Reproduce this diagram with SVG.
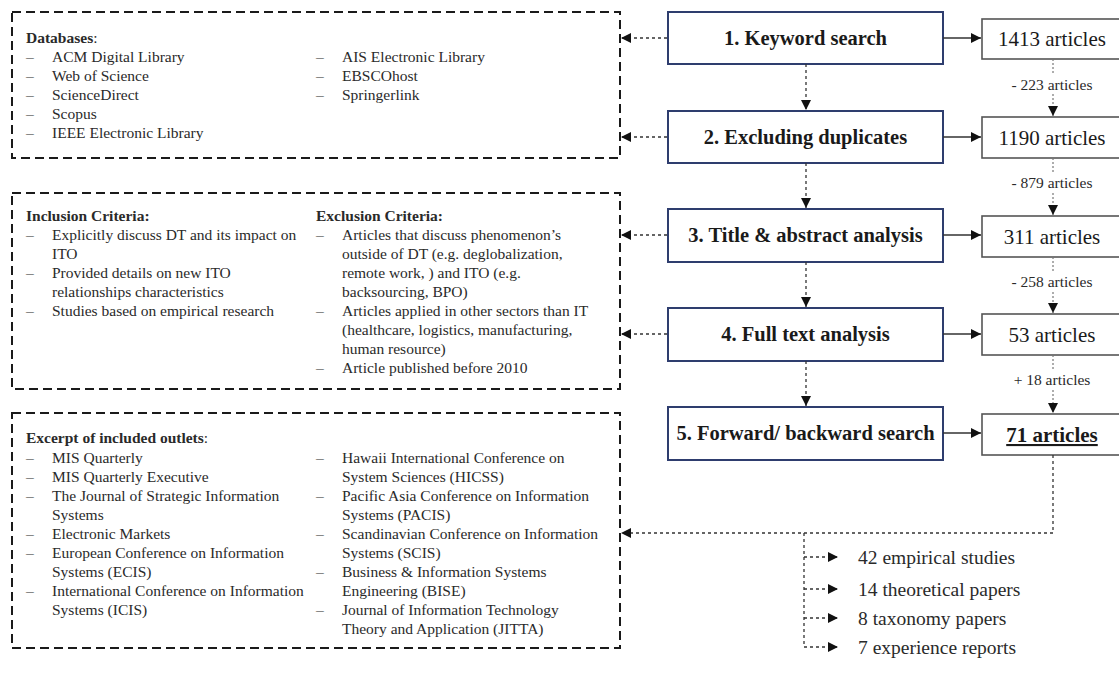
<svg xmlns="http://www.w3.org/2000/svg" width="1119" height="679" viewBox="0 0 1119 679">
<style>
.bg{fill:#fff}
.grp{fill:none;stroke:#1a1a1a;stroke-width:2;stroke-dasharray:9,5}
.proc{fill:#fff;stroke:#2e3d6e;stroke-width:2}
.art{fill:#fff;stroke:#555;stroke-width:1.6}
.t{font-family:"Liberation Serif","Times New Roman",serif;font-size:15.5px;fill:#2a2a2a}
.b{font-weight:bold}
.pt{font-family:"Liberation Serif","Times New Roman",serif;font-size:20.5px;font-weight:bold;fill:#1a1a1a;text-anchor:middle}
.at{font-family:"Liberation Serif","Times New Roman",serif;font-size:21px;fill:#1a1a1a;text-anchor:middle}
.lbl{font-family:"Liberation Serif","Times New Roman",serif;font-size:15.5px;fill:#2a2a2a;text-anchor:middle}
.res{font-family:"Liberation Serif","Times New Roman",serif;font-size:19.5px;fill:#2a2a2a}
.dash{fill:none;stroke:#333;stroke-width:1.3;stroke-dasharray:3,3}
.dot{fill:none;stroke:#777;stroke-width:1.2;stroke-dasharray:2,2}
.solid{fill:none;stroke:#333;stroke-width:1.5}
</style>
<defs>
<marker id="ah" viewBox="0 0 10 10" refX="10" refY="5" markerWidth="10" markerHeight="10" markerUnits="userSpaceOnUse" orient="auto">
<path d="M0,0 L10,5 L0,10 Z" fill="#111"/>
</marker>
</defs>
<rect class="bg" x="0" y="0" width="1119" height="679"/>

<g id="databases">
<rect class="grp" x="12" y="12" width="608" height="146"/>
<text class="t" x="26" y="43"><tspan class="b">Databases</tspan>:</text>
<text class="t" x="26" y="62">–</text><text class="t" x="52" y="62">ACM Digital Library</text>
<text class="t" x="26" y="81">–</text><text class="t" x="52" y="81">Web of Science</text>
<text class="t" x="26" y="100">–</text><text class="t" x="52" y="100">ScienceDirect</text>
<text class="t" x="26" y="119">–</text><text class="t" x="52" y="119">Scopus</text>
<text class="t" x="26" y="138">–</text><text class="t" x="52" y="138">IEEE Electronic Library</text>
<text class="t" x="316" y="62">–</text><text class="t" x="342" y="62">AIS Electronic Library</text>
<text class="t" x="316" y="81">–</text><text class="t" x="342" y="81">EBSCOhost</text>
<text class="t" x="316" y="100">–</text><text class="t" x="342" y="100">Springerlink</text>
</g>

<g id="criteria">
<rect class="grp" x="12" y="193" width="608" height="196"/>
<text class="t b" x="26" y="221">Inclusion Criteria:</text>
<text class="t" x="26" y="240">–</text><text class="t" x="52" y="240">Explicitly discuss DT and its impact on</text>
<text class="t" x="52" y="259">ITO</text>
<text class="t" x="26" y="278">–</text><text class="t" x="52" y="278">Provided details on new ITO</text>
<text class="t" x="52" y="297">relationships characteristics</text>
<text class="t" x="26" y="316">–</text><text class="t" x="52" y="316">Studies based on empirical research</text>
<text class="t b" x="316" y="221">Exclusion Criteria:</text>
<text class="t" x="316" y="240">–</text><text class="t" x="342" y="240">Articles that discuss phenomenon’s</text>
<text class="t" x="342" y="259">outside of DT (e.g. deglobalization,</text>
<text class="t" x="342" y="278">remote work, ) and ITO (e.g.</text>
<text class="t" x="342" y="297">backsourcing, BPO)</text>
<text class="t" x="316" y="316">–</text><text class="t" x="342" y="316">Articles applied in other sectors than IT</text>
<text class="t" x="342" y="335">(healthcare, logistics, manufacturing,</text>
<text class="t" x="342" y="354">human resource)</text>
<text class="t" x="316" y="373">–</text><text class="t" x="342" y="373">Article published before 2010</text>
</g>

<g id="outlets">
<rect class="grp" x="12" y="413" width="608" height="235"/>
<text class="t" x="26" y="443"><tspan class="b">Excerpt of included outlets</tspan>:</text>
<text class="t" x="26" y="463">–</text><text class="t" x="52" y="463">MIS Quarterly</text>
<text class="t" x="26" y="482">–</text><text class="t" x="52" y="482">MIS Quarterly Executive</text>
<text class="t" x="26" y="501">–</text><text class="t" x="52" y="501">The Journal of Strategic Information</text>
<text class="t" x="52" y="520">Systems</text>
<text class="t" x="26" y="539">–</text><text class="t" x="52" y="539">Electronic Markets</text>
<text class="t" x="26" y="558">–</text><text class="t" x="52" y="558">European Conference on Information</text>
<text class="t" x="52" y="577">Systems (ECIS)</text>
<text class="t" x="26" y="596">–</text><text class="t" x="52" y="596">International Conference on Information</text>
<text class="t" x="52" y="615">Systems (ICIS)</text>
<text class="t" x="316" y="463">–</text><text class="t" x="342" y="463">Hawaii International Conference on</text>
<text class="t" x="342" y="482">System Sciences (HICSS)</text>
<text class="t" x="316" y="501">–</text><text class="t" x="342" y="501">Pacific Asia Conference on Information</text>
<text class="t" x="342" y="520">Systems (PACIS)</text>
<text class="t" x="316" y="539">–</text><text class="t" x="342" y="539">Scandinavian Conference on Information</text>
<text class="t" x="342" y="558">Systems (SCIS)</text>
<text class="t" x="316" y="577">–</text><text class="t" x="342" y="577">Business &amp; Information Systems</text>
<text class="t" x="342" y="596">Engineering (BISE)</text>
<text class="t" x="316" y="615">–</text><text class="t" x="342" y="615">Journal of Information Technology</text>
<text class="t" x="342" y="634">Theory and Application (JITTA)</text>
</g>

<g id="step1"><rect class="proc" x="668" y="12" width="275" height="52"/><text class="pt" x="805.5" y="45">1. Keyword search</text></g>
<g id="step2"><rect class="proc" x="668" y="111" width="275" height="52"/><text class="pt" x="805.5" y="144">2. Excluding duplicates</text></g>
<g id="step3"><rect class="proc" x="668" y="209" width="275" height="53"/><text class="pt" x="805.5" y="242">3. Title &amp; abstract analysis</text></g>
<g id="step4"><rect class="proc" x="668" y="308" width="275" height="53"/><text class="pt" x="805.5" y="341">4. Full text analysis</text></g>
<g id="step5"><rect class="proc" x="668" y="407" width="275" height="53"/><text class="pt" x="805.5" y="440">5. Forward/ backward search</text></g>

<g id="n1413"><rect class="art" x="982" y="19" width="141" height="40"/><text class="at" x="1052" y="46">1413 articles</text></g>
<g id="n1190"><rect class="art" x="982" y="117" width="141" height="41"/><text class="at" x="1052" y="145">1190 articles</text></g>
<g id="n311"><rect class="art" x="982" y="216" width="141" height="41"/><text class="at" x="1052" y="244">311 articles</text></g>
<g id="n53"><rect class="art" x="982" y="314" width="141" height="41"/><text class="at" x="1052" y="342">53 articles</text></g>
<g id="n71"><rect class="art" x="982" y="414" width="141" height="41"/><text class="at b" x="1052" y="442" text-decoration="underline">71 articles</text></g>

<g id="results">
<text class="res" x="858" y="564">42 empirical studies</text>
<text class="res" x="858" y="596">14 theoretical papers</text>
<text class="res" x="858" y="625">8 taxonomy papers</text>
<text class="res" x="858" y="654">7 experience reports</text>
</g>

<g id="connectors">
<path class="solid" d="M943,38 H981" marker-end="url(#ah)"/>
<path class="solid" d="M943,137 H981" marker-end="url(#ah)"/>
<path class="solid" d="M943,235 H981" marker-end="url(#ah)"/>
<path class="solid" d="M943,334 H981" marker-end="url(#ah)"/>
<path class="solid" d="M943,433 H981" marker-end="url(#ah)"/>

<path class="dash" d="M806,64 V110" marker-end="url(#ah)"/>
<path class="dash" d="M806,163 V208" marker-end="url(#ah)"/>
<path class="dash" d="M806,262 V307" marker-end="url(#ah)"/>
<path class="dash" d="M806,361 V406" marker-end="url(#ah)"/>

<path class="dash" d="M667,38 H621" marker-end="url(#ah)"/>
<path class="dash" d="M667,137 H621" marker-end="url(#ah)"/>
<path class="dash" d="M667,235 H621" marker-end="url(#ah)"/>
<path class="dash" d="M667,334 H621" marker-end="url(#ah)"/>

<path class="dot" d="M1053,59 V75"/><path class="dot" d="M1053,94 V116" marker-end="url(#ah)"/>
<text class="lbl" x="1052" y="90">- 223 articles</text>
<path class="dot" d="M1053,158 V173"/><path class="dot" d="M1053,193 V215" marker-end="url(#ah)"/>
<text class="lbl" x="1052" y="188">- 879 articles</text>
<path class="dot" d="M1053,257 V272"/><path class="dot" d="M1053,292 V313" marker-end="url(#ah)"/>
<text class="lbl" x="1052" y="287">- 258 articles</text>
<path class="dot" d="M1053,355 V370"/><path class="dot" d="M1053,390 V413" marker-end="url(#ah)"/>
<text class="lbl" x="1052" y="385">+ 18 articles</text>

<path class="dash" d="M1053,455 V533 H621" marker-end="url(#ah)"/>
<path class="dash" d="M804,533 V647 H838" marker-end="url(#ah)"/>
<path class="dash" d="M804,557 H838" marker-end="url(#ah)"/>
<path class="dash" d="M804,589 H838" marker-end="url(#ah)"/>
<path class="dash" d="M804,618 H838" marker-end="url(#ah)"/>
</g>
</svg>
